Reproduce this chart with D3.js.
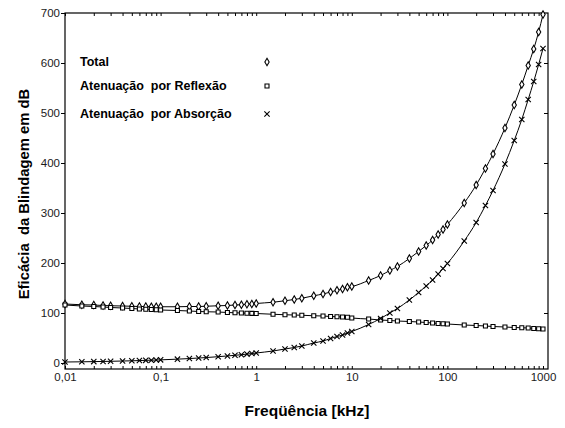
<!doctype html>
<html>
<head>
    <meta charset="utf-8">
    <title>Eficácia da Blindagem</title>
    <style>
        body { margin: 0; background: #ffffff; }
        svg { display: block; font-family: "Liberation Sans", Arial, sans-serif; }
        .axis text { font-size: 11.5px; fill: #1a1a1a; }
        .axis line { stroke: #000000; stroke-width: 1; }
        .axis path { display: none; }
        .frame { fill: none; stroke: #000000; stroke-width: 1.2; }
        .curve { fill: none; stroke: #000000; stroke-width: 1; }
        .mark { fill: #ffffff; stroke: #000000; stroke-width: 1.1; }
        .legend text { font-size: 12.5px; font-weight: bold; white-space: pre; }
        .title { font-size: 15.5px; font-weight: bold; white-space: pre; }
        .title.y-title { font-size: 14.8px; }
    </style>
</head>
<body>
    <div id="chart"></div>

    <script src="https://cdn.jsdelivr.net/npm/d3@7"></script>
    <script>
        var svg_width = 565;
        var svg_height = 428;

        // frequencies in kHz, 1..9 steps per decade
        var freq = [
            0.01, 0.015, 0.02, 0.025, 0.03, 0.04, 0.05, 0.06, 0.07, 0.08, 0.09,
            0.1, 0.15, 0.2, 0.25, 0.3, 0.4, 0.5, 0.6, 0.7, 0.8, 0.9,
            1, 1.5, 2, 2.5, 3, 4, 5, 6, 7, 8, 9,
            10, 15, 20, 25, 30, 40, 50, 60, 70, 80, 90,
            100, 150, 200, 250, 300, 400, 500, 600, 700, 800, 900,
            1000
        ];

        var total = [
            118, 116.5, 116, 115, 114.5, 114, 113.5, 113, 113, 112.5, 112.5,
            112.5, 112.5, 113, 113, 113.5, 114.5, 115, 116, 116.5, 117.5, 118,
            119, 121.5, 124.5, 127, 129.5, 134.5, 138, 142, 145.5, 148, 151.5,
            153, 165, 175, 185, 193, 209, 223, 235, 246, 257, 267,
            277, 320, 356, 389, 418, 470, 516, 557, 595, 628, 662,
            697
        ];

        var reflexao = [
            116, 114, 113, 112, 111, 110, 109, 108, 107.5, 107, 106.5,
            106, 105, 104, 103, 102.5, 102, 101, 100.5, 100, 99.5, 99.2,
            99, 97.5, 96.5, 96, 95.5, 94.5, 94, 93, 92.5, 92, 91.5,
            90, 88, 86, 85, 84, 83, 82, 81, 80, 79, 78.5,
            78, 76, 75, 74, 73, 72, 71, 70.5, 70, 69, 68.5,
            68
        ];

        var absorcao = [
            2, 2.4, 2.8, 3.1, 3.4, 4, 4.4, 4.9, 5.3, 5.6, 6,
            6.3, 7.7, 8.9, 10, 10.9, 12.6, 14.1, 15.4, 16.6, 17.8, 18.9,
            20, 24, 28, 31, 34, 40, 44, 49, 53, 56, 60,
            63, 77, 89, 100, 109, 126, 141, 154, 166, 178, 189,
            199, 244, 281, 315, 345, 398, 445, 487, 527, 563, 597,
            629
        ];

        var y_ticks = [0, 100, 200, 300, 400, 500, 600, 700];
        var x_labels = { 0.01: '0,01', 0.1: '0,1', 1: '1', 10: '10', 100: '100', 1000: '1000' };

        var series = [
            { name: 'Total', values: total, symbol: 'diamond' },
            { name: 'Atenuação  por Reflexão', values: reflexao, symbol: 'square' },
            { name: 'Atenuação  por Absorção', values: absorcao, symbol: 'cross' }
        ];

        var plot_left = 65, plot_right = 548, plot_top = 13, plot_bottom = 369;

        var x = d3.scaleLog().domain([0.01, 1000]).range([plot_left, 543]);
        var y = d3.scaleLinear().domain([0, 700]).range([363, plot_top]);

        var svg = d3.select('#chart').append('svg')
            .attr('width', svg_width)
            .attr('height', svg_height);

        // log minor ticks
        var minor_ticks = [];
        [0.01, 0.1, 1, 10, 100].forEach(function(d) {
            for (var k = 1; k < 10; k++) minor_ticks.push(+(d * k).toPrecision(3));
        });
        minor_ticks.push(1000);

        svg.append('g')
            .attr('class', 'axis')
            .attr('transform', 'translate(0,' + plot_bottom + ')')
            .call(d3.axisBottom(x)
                .tickValues(minor_ticks)
                .tickSize(-3)
                .tickPadding(4)
                .tickFormat(function(d) { return x_labels[d] || ''; }));

        svg.append('g')
            .attr('class', 'axis')
            .attr('transform', 'translate(0,' + plot_top + ')')
            .call(d3.axisTop(x)
                .tickValues(minor_ticks)
                .tickSize(-3)
                .tickFormat(''));

        svg.append('g')
            .attr('class', 'axis')
            .attr('transform', 'translate(' + plot_left + ',0)')
            .call(d3.axisLeft(y)
                .tickValues(y_ticks)
                .tickSize(4)
                .tickPadding(1));

        svg.append('g')
            .attr('class', 'axis')
            .attr('transform', 'translate(' + plot_right + ',0)')
            .call(d3.axisRight(y)
                .tickValues(y_ticks.slice(1, -1))
                .tickSize(-4)
                .tickFormat(''));

        svg.append('rect')
            .attr('class', 'frame')
            .attr('x', plot_left)
            .attr('y', plot_top)
            .attr('width', plot_right - plot_left)
            .attr('height', plot_bottom - plot_top);

        var line = d3.line()
            .x(function(d) { return x(d[0]); })
            .y(function(d) { return y(d[1]); })
            .curve(d3.curveMonotoneX);

        var symbols = {
            diamond: d3.symbol().type(d3.symbolDiamond).size(16),
            square: d3.symbol().type(d3.symbolSquare).size(16),
            cross: d3.symbol().type(d3.symbolX).size(20)
        };

        series.forEach(function(s) {
            var pts = freq.map(function(f, i) { return [f, s.values[i]]; });

            svg.append('path')
                .attr('class', 'curve')
                .attr('d', line(pts));

            svg.selectAll(null)
                .data(pts)
              .enter().append('path')
                .attr('class', 'mark')
                .attr('transform', function(d) {
                    return 'translate(' + x(d[0]) + ',' + y(d[1]) + ')';
                })
                .attr('d', symbols[s.symbol]);
        });

        // legend
        var legend = svg.append('g').attr('class', 'legend');
        var legend_y = [66, 90, 118];

        series.forEach(function(s, i) {
            legend.append('text')
                .attr('x', 80)
                .attr('y', legend_y[i])
                .text(s.name);

            legend.append('path')
                .attr('class', 'mark')
                .attr('transform', 'translate(267,' + (legend_y[i] - 4) + ')')
                .attr('d', symbols[s.symbol]);
        });

        svg.append('text')
            .attr('class', 'title')
            .attr('x', 307)
            .attr('y', 416)
            .attr('text-anchor', 'middle')
            .text('Freqüência [kHz]');

        svg.append('text')
            .attr('class', 'title y-title')
            .attr('transform', 'translate(29,194) rotate(-90)')
            .attr('text-anchor', 'middle')
            .text('Eficácia  da Blindagem em dB');
    </script>
</body>
</html>
